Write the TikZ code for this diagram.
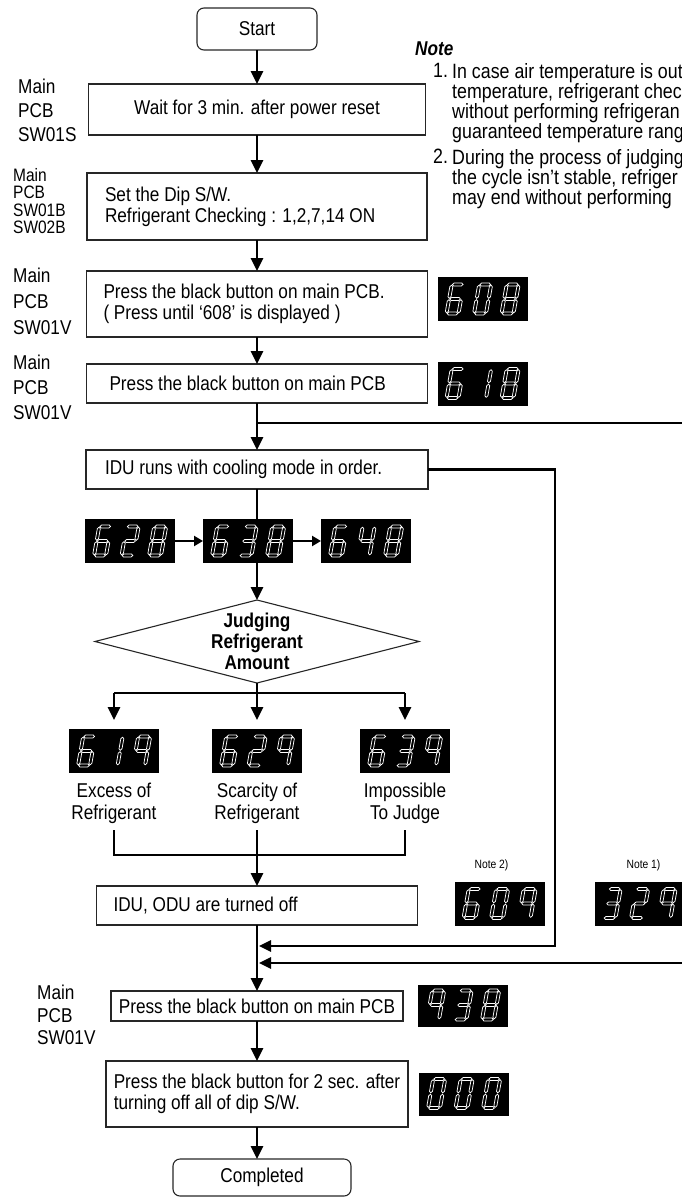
\documentclass[tikz,border=0pt]{standalone}
\usepackage{fontspec}
\setmainfont{Liberation Sans}[FakeStretch=0.86]
\usetikzlibrary{shapes.geometric, arrows.meta, positioning, calc}

\newcommand\boxfont{\fontsize{20}{21}\selectfont}
\newcommand\lblfont[1]{\fontsize{20}{#1}\selectfont}
\newcommand\notefont{\fontsize{20.7}{20}\selectfont}

% seven segment digits
\newcommand\hseg[1]{\draw[segline] (0.7,#1) -- ++(1.5,-1.5) -- ++(7.6,0) -- ++(1.5,1.5) -- ++(-1.5,1.5) -- ++(-7.6,0) -- cycle;}
\newcommand\vseg[2]{\draw[segline] (#1,#2+0.7) -- ++(1.5,1.5) -- ++(0,10.1) -- ++(-1.5,1.5) -- ++(-1.5,-1.5) -- ++(0,-10.1) -- cycle;}
\newcommand\segA{\hseg{-29}}
\newcommand\segG{\hseg{-14.5}}
\newcommand\segD{\hseg{0}}
\newcommand\segB{\vseg{12}{-29}}
\newcommand\segC{\vseg{12}{-14.5}}
\newcommand\segE{\vseg{0}{-14.5}}
\newcommand\segF{\vseg{0}{-29}}
\newcommand\segdigit[1]{%
  \ifcase#1\relax
    \segA\segB\segC\segD\segE\segF
  \or\segB\segC
  \or\segA\segB\segG\segE\segD
  \or\segA\segB\segG\segC\segD
  \or\segF\segG\segB\segC
  \or\segA\segF\segG\segC\segD
  \or\segA\segF\segG\segE\segC\segD
  \or\segA\segB\segC
  \or\segA\segB\segC\segD\segE\segF\segG
  \or\segA\segB\segC\segF\segG
  \fi}
\newcommand\segshow[2]{%
  \foreach \dg [count=\k from 0] in {#2}{%
    \begin{scope}[shift={($(#1.south west)+(9+27.5*\k,-7.5)$)}, xslant=0.18]
      \segdigit{\dg}
    \end{scope}}}

\tikzset{
    startstop/.style = {rectangle, rounded corners=7pt, minimum width=120pt, minimum height=42pt, draw=black!85, line width=1.1pt, outer sep=0pt, font=\boxfont},
    process/.style = {rectangle, draw=black!85, line width=1.1pt, inner ysep=0pt, outer sep=0pt, font=\boxfont},
    decision/.style = {diamond, aspect=3.9, inner sep=-2pt, outer sep=0pt, minimum width=324pt, minimum height=83pt, draw=black!85, line width=1.1pt, align=center, font=\boxfont\bfseries},
    segbox/.style = {rectangle, fill=black, minimum width=90pt, minimum height=44pt, inner sep=0pt, outer sep=0pt},
    segline/.style = {draw=white, line width=0.75pt, line join=miter},
    pcbtag/.style = {anchor=west, align=left, inner sep=0pt},
    outcome/.style = {align=center, inner sep=0pt, font=\lblfont{22}},
    notetag/.style = {inner sep=0pt, font=\fontsize{12}{14}\selectfont},
    conn/.style = {line width=2.8pt},
    arrow/.style = {line width=2.8pt, ->, >={Triangle[length=13pt, width=12pt]}},
    smallarrow/.style = {line width=2.2pt, ->, >={Triangle[length=9pt, width=10pt]}},
    sidearrow/.style = {line width=2.6pt, ->, >={Triangle[length=12pt, width=11pt]}}
}

\begin{document}
\begin{tikzpicture}[x=1pt, y=-1pt, node distance=30pt]
    \useasboundingbox (0,0) rectangle (682,1197);
    \clip (0,0) rectangle (682,1197);

    % Nodos
    \node (start) [startstop] at (257,29) {Start};
    \node (wait) [process, below=34pt of start, minimum width=337pt, minimum height=51pt, align=center] {Wait for 3 min. after power reset};
    \node (dip) [process, below=38pt of wait, text width=304pt, inner xsep=18pt, minimum height=67pt, align=flush left] {Set the Dip S/W.\\Refrigerant Checking : 1,2,7,14 ON};
    \node (press1) [process, below=31pt of dip, text width=307pt, inner xsep=17pt, minimum height=66pt, align=flush left] {Press the black button on main PCB.\\( Press until ‘608’ is displayed )};
    \node (press2) [process, below=27pt of press1, text width=295pt, inner xsep=23pt, minimum height=39pt, align=flush left] {Press the black button on main PCB};
    \node (idu) [process, below=47pt of press2, text width=304pt, inner xsep=19pt, minimum height=39pt, align=flush left] {IDU runs with cooling mode in order.};
    \node (d638) [segbox, below=30pt of idu, xshift=-9pt] {};
    \node (d628) [segbox, left=28pt of d638] {};
    \node (d648) [segbox, right=28pt of d638] {};
    \node (judge) [decision, below=37pt of d638, xshift=9pt] {Judging\\Refrigerant\\Amount};
    \node (d629) [segbox, below=46pt of judge] {};
    \node (d619) [segbox, left=53pt of d629] {};
    \node (d639) [segbox, right=58pt of d629] {};
    \node (exc) [outcome, below=10pt of d619] {Excess of\\Refrigerant};
    \node (sca) [outcome, below=10pt of d629] {Scarcity of\\Refrigerant};
    \node (imp) [outcome, below=10pt of d639] {Impossible\\To Judge};
    \node (off) [process, below=113pt of d629, text width=287pt, inner xsep=17pt, minimum height=39pt, align=flush left] {IDU, ODU are turned off};
    \node (press3) [process, below=66pt of off, minimum width=292pt, minimum height=30pt, align=center] {Press the black button on main PCB};
    \node (final) [process, below=40pt of press3, minimum width=302pt, minimum height=66pt, align=flush left] {Press the black button for 2 sec. after\\turning off all of dip S/W.};
    \node (done) [startstop, below=32pt of final, xshift=5pt, minimum width=178pt, minimum height=37pt] {Completed};

    % Displays
    \node (d608) [segbox, right=10pt of press1, yshift=5pt] {};
    \node (d618) [segbox, right=10pt of press2] {};
    \node (d609) [segbox, right=37pt of off, yshift=2pt] {};
    \node (d329) [segbox, right=50pt of d609] {};
    \node (d938) [segbox, right=15pt of press3, minimum height=42pt] {};
    \node (d000) [segbox, right=11pt of final, minimum height=43pt] {};
    \node (n2) [notetag, above=10pt of d609, xshift=-8pt] {Note 2)};
    \node (n1) [notetag, above=10pt of d329, xshift=4pt] {Note 1)};
    \segshow{d608}{6,0,8}
    \segshow{d618}{6,1,8}
    \segshow{d628}{6,2,8}
    \segshow{d638}{6,3,8}
    \segshow{d648}{6,4,8}
    \segshow{d619}{6,1,9}
    \segshow{d629}{6,2,9}
    \segshow{d639}{6,3,9}
    \segshow{d609}{6,0,9}
    \segshow{d329}{3,2,9}
    \segshow{d938}{9,3,8}
    \segshow{d000}{0,0,0}

    % PCB tags
    \node (tag1) [pcbtag, font=\lblfont{24}] at (18,110) {Main\\PCB\\SW01S};
    \node (tag2) [pcbtag, font=\fontsize{18}{17.5}\selectfont] at (13,201) {Main\\PCB\\SW01B\\SW02B};
    \node (tag3) [pcbtag, font=\lblfont{26}] at (13,301) {Main\\PCB\\SW01V};
    \node (tag4) [pcbtag, font=\lblfont{25}] at (13,387) {Main\\PCB\\SW01V};
    \node (tag5) [pcbtag, font=\lblfont{22.5}] at (37,1015) {Main\\PCB\\SW01V};

    % Note
    \node (notehead) [anchor=base west, inner sep=0pt, font=\boxfont\bfseries\itshape] at (415,55) {Note};
    \node (num1) [anchor=north west, inner sep=0pt, font=\notefont] at (433,63) {1.};
    \node (note1) [anchor=north west, inner sep=0pt, align=flush left, font=\notefont] at (452,63) {In case air temperature is out\\temperature, refrigerant chec\\without performing refrigeran\\guaranteed temperature rang};
    \node (num2) [anchor=north west, inner sep=0pt, font=\notefont] at (433,149) {2.};
    \node (note2) [anchor=north west, inner sep=0pt, align=flush left, font=\notefont] at (452,149) {During the process of judging\\the cycle isn't stable, refriger\\may end without performing};

    % Puntos
    \coordinate (br) at ($(press2.south)+(0,20)$);
    \coordinate (re1) at (690,423);
    \coordinate (bj) at ($(judge.south)+(0,10)$);
    \coordinate (stub) at ($(off.north)+(0,-56)$);
    \coordinate (mj) at ($(off.north)+(0,-31)$);
    \coordinate (j1) at ($(off.south)+(2,21)$);
    \coordinate (j2) at ($(j1)+(0,17)$);
    \coordinate (rt) at (555,946);
    \coordinate (re2) at (690,963);

    % Flechas
    \draw [arrow] (start) -- (start |- wait.north);
    \draw [arrow] (wait) -- (wait |- dip.north);
    \draw [arrow] (dip) -- (dip |- press1.north);
    \draw [arrow] (press1) -- (press1 |- press2.north);
    \draw [arrow] (press2) -- (press2 |- idu.north);
    \draw [conn] (br) -- (re1);
    \draw [conn] (idu.south) -- (idu.south |- d638.north);
    \draw [smallarrow] (d628) -- (d638);
    \draw [smallarrow] (d638) -- (d648);
    \draw [arrow] (judge.north |- d638.south) -- (judge.north);
    \draw [conn] (judge.south) -- (bj);
    \draw [conn] (bj -| d619) -- (bj -| d639);
    \draw [arrow, shorten >=9pt] (bj -| d619) -- (d619.north);
    \draw [arrow, shorten >=9pt] (bj) -- (bj |- d629.north);
    \draw [arrow, shorten >=9pt] (bj -| d639) -- (d639.north);
    \draw [conn] (exc.south |- stub) -- (exc.south |- mj) -- (imp.south |- mj) -- (imp.south |- stub);
    \draw [arrow] (sca.south |- stub) -- (sca.south |- off.north);
    \draw [arrow] (off) -- (off |- press3.north);
    \draw [sidearrow] (idu.east) -| (rt) -- (j1);
    \draw [sidearrow] (re2) -- (j2);
    \draw [arrow] (press3) -- (press3 |- final.north);
    \draw [arrow] (final) -- (final |- done.north);
\end{tikzpicture}
\end{document}
